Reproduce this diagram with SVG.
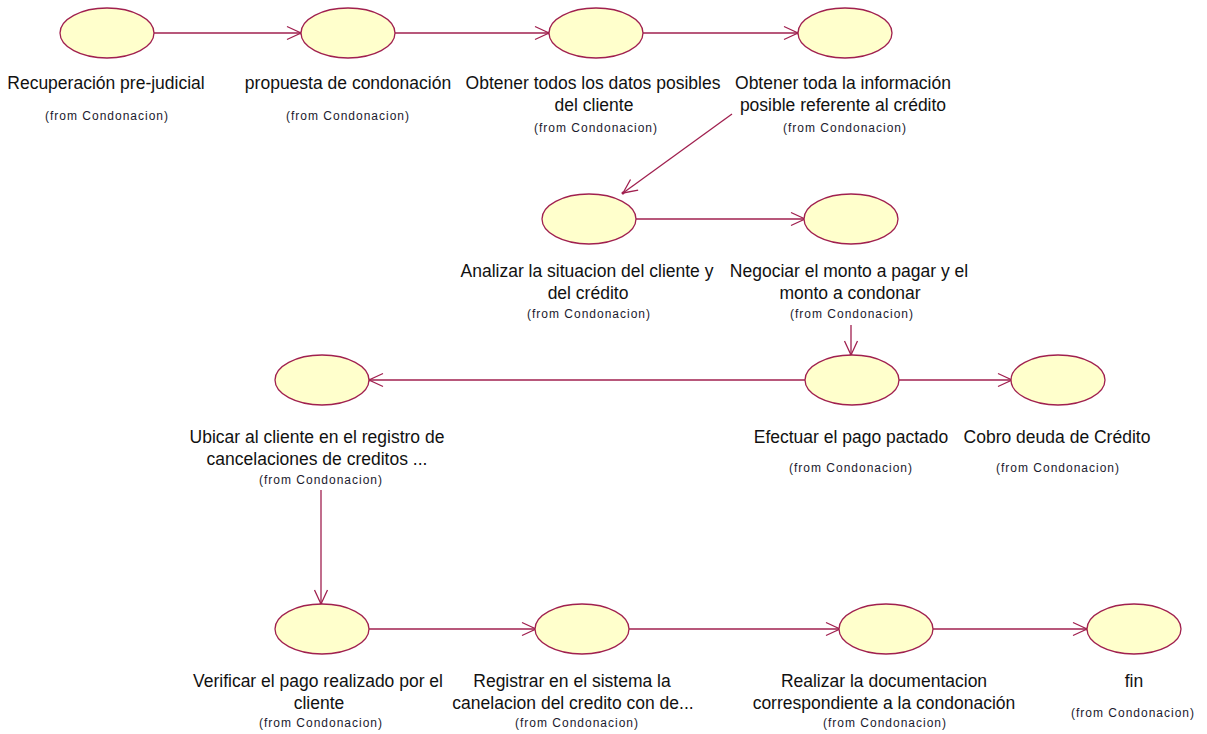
<svg xmlns="http://www.w3.org/2000/svg" width="1207" height="734" viewBox="0 0 1207 734">
  <style>
    .uc { fill: #ffffcc; stroke: #a0204f; stroke-width: 1.3; }
    .lbl { font-family: "Liberation Sans", Arial, sans-serif; font-size: 17.5px; fill: #111; text-anchor: middle; }
    .from { font-family: "Liberation Sans", Arial, sans-serif; font-size: 12px; fill: #1a1a2e; text-anchor: middle; letter-spacing: 1px; }
    .flow { fill: none; stroke: #a0204f; stroke-width: 1.3; }
  </style>
  <defs>
    <marker id="open" viewBox="-15 -8 17 16" refX="0" refY="0" markerWidth="17" markerHeight="16" markerUnits="userSpaceOnUse" orient="auto">
      <path d="M -14 -6.5 L 0 0 L -14 6.5" fill="none" stroke="#a0204f" stroke-width="1.3"/>
      <circle cx="0" cy="0" r="1.5" fill="#a0204f"/>
    </marker>
  </defs>
  <rect width="1207" height="734" fill="#ffffff"/>

  <!-- connectors -->
  <g id="connectors">
    <line class="flow" x1="154" y1="33" x2="301" y2="33" marker-end="url(#open)"/>
    <line class="flow" x1="395" y1="33" x2="549" y2="33" marker-end="url(#open)"/>
    <line class="flow" x1="643" y1="33" x2="798" y2="33" marker-end="url(#open)"/>
    <line class="flow" x1="732" y1="114" x2="623" y2="193" marker-end="url(#open)"/>
    <line class="flow" x1="636" y1="219" x2="805" y2="219" marker-end="url(#open)"/>
    <line class="flow" x1="851" y1="325" x2="851" y2="355" marker-end="url(#open)"/>
    <line class="flow" x1="805" y1="380" x2="369" y2="380" marker-end="url(#open)"/>
    <line class="flow" x1="898" y1="380" x2="1012" y2="380" marker-end="url(#open)"/>
    <line class="flow" x1="321" y1="490" x2="321" y2="604" marker-end="url(#open)"/>
    <line class="flow" x1="369" y1="629" x2="536" y2="629" marker-end="url(#open)"/>
    <line class="flow" x1="629" y1="629" x2="840" y2="629" marker-end="url(#open)"/>
    <line class="flow" x1="933" y1="629" x2="1087" y2="629" marker-end="url(#open)"/>
  </g>

  <!-- use cases -->
  <g id="recuperacion">
    <ellipse class="uc" cx="107" cy="33" rx="47" ry="25"/>
    <text class="lbl" x="106" y="89">Recuperación pre-judicial</text>
    <text class="from" x="107" y="120">(from Condonacion)</text>
  </g>
  <g id="propuesta">
    <ellipse class="uc" cx="348" cy="33" rx="47" ry="25"/>
    <text class="lbl" x="348" y="89">propuesta de condonación</text>
    <text class="from" x="348" y="120">(from Condonacion)</text>
  </g>
  <g id="datos-cliente">
    <ellipse class="uc" cx="596" cy="33" rx="47" ry="25"/>
    <text class="lbl" x="593" y="89">Obtener todos los datos posibles</text>
    <text class="lbl" x="594" y="111">del cliente</text>
    <text class="from" x="596" y="132">(from Condonacion)</text>
  </g>
  <g id="info-credito">
    <ellipse class="uc" cx="845" cy="33" rx="47" ry="25"/>
    <text class="lbl" x="843" y="89">Obtener toda la información</text>
    <text class="lbl" x="843" y="111">posible referente al crédito</text>
    <text class="from" x="845" y="132">(from Condonacion)</text>
  </g>
  <g id="analizar">
    <ellipse class="uc" cx="589" cy="219" rx="47" ry="25"/>
    <text class="lbl" x="587" y="277">Analizar la situacion del cliente y</text>
    <text class="lbl" x="588" y="299">del crédito</text>
    <text class="from" x="589" y="318">(from Condonacion)</text>
  </g>
  <g id="negociar">
    <ellipse class="uc" cx="851" cy="219" rx="47" ry="25"/>
    <text class="lbl" x="849" y="277">Negociar el monto a pagar y el</text>
    <text class="lbl" x="850" y="299">monto a condonar</text>
    <text class="from" x="852" y="318">(from Condonacion)</text>
  </g>
  <g id="ubicar">
    <ellipse class="uc" cx="322" cy="380" rx="47" ry="25"/>
    <text class="lbl" x="317" y="443">Ubicar al cliente en el registro de</text>
    <text class="lbl" x="317" y="465">cancelaciones de creditos ...</text>
    <text class="from" x="321" y="484">(from Condonacion)</text>
  </g>
  <g id="efectuar">
    <ellipse class="uc" cx="852" cy="380" rx="47" ry="25"/>
    <text class="lbl" x="851" y="443">Efectuar el pago pactado</text>
    <text class="from" x="851" y="472">(from Condonacion)</text>
  </g>
  <g id="cobro">
    <ellipse class="uc" cx="1058" cy="380" rx="47" ry="25"/>
    <text class="lbl" x="1057" y="443">Cobro deuda de Crédito</text>
    <text class="from" x="1058" y="472">(from Condonacion)</text>
  </g>
  <g id="verificar">
    <ellipse class="uc" cx="322" cy="629" rx="47" ry="25"/>
    <text class="lbl" x="318" y="687">Verificar el pago realizado por el</text>
    <text class="lbl" x="319" y="709">cliente</text>
    <text class="from" x="321" y="727">(from Condonacion)</text>
  </g>
  <g id="registrar">
    <ellipse class="uc" cx="582" cy="629" rx="47" ry="25"/>
    <text class="lbl" x="572" y="687">Registrar en el sistema la</text>
    <text class="lbl" x="573" y="709">canelacion del credito con de...</text>
    <text class="from" x="577" y="727">(from Condonacion)</text>
  </g>
  <g id="documentacion">
    <ellipse class="uc" cx="886" cy="629" rx="47" ry="25"/>
    <text class="lbl" x="884" y="687">Realizar la documentacion</text>
    <text class="lbl" x="884" y="709">correspondiente a la condonación</text>
    <text class="from" x="885" y="727">(from Condonacion)</text>
  </g>
  <g id="fin">
    <ellipse class="uc" cx="1134" cy="629" rx="47" ry="25"/>
    <text class="lbl" x="1134" y="687">fin</text>
    <text class="from" x="1133" y="717">(from Condonacion)</text>
  </g>
</svg>
